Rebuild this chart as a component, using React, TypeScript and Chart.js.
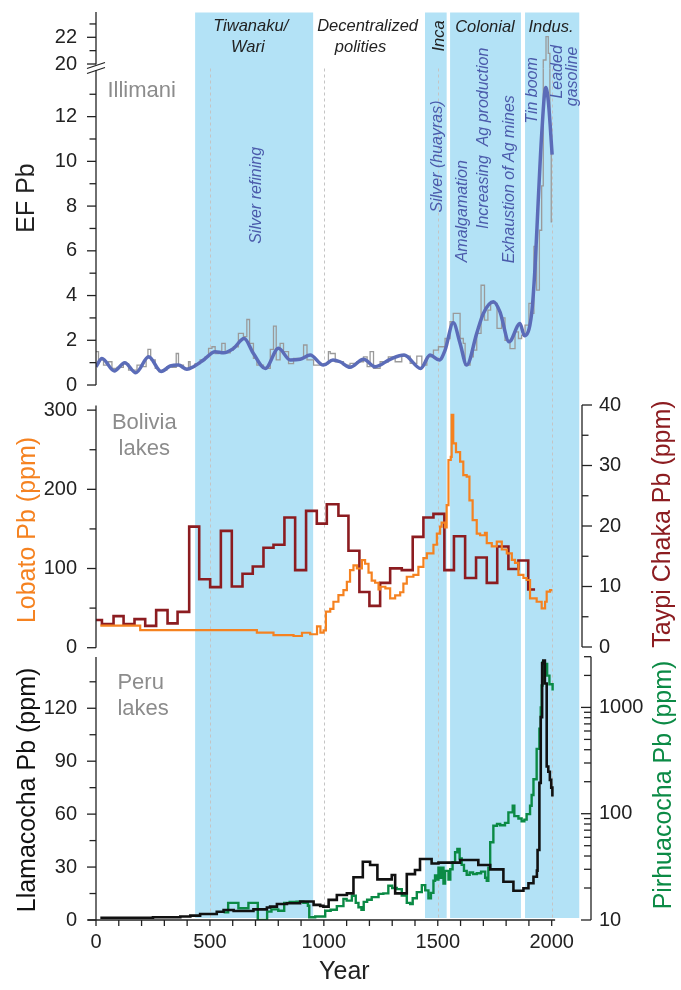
import React, { useEffect, useRef } from "react";
import { Chart, registerables } from "chart.js";

Chart.register(...registerables);

const FONT = '"Liberation Sans", Arial, Helvetica, sans-serif';

// ---------- x axis ----------
const yearTicks = [0, 100, 200, 300, 400, 500, 600, 700, 800, 900, 1000, 1100, 1200, 1300, 1400, 1500, 1600, 1700, 1800, 1900, 2000];
const yearTickLabels = [0, 500, 1000, 1500, 2000];

// ---------- historical periods ----------
const periodStarts = [435, 1444, 1554, 1883];
const periodEnds = [953, 1539, 1865, 2121];
const guideYears = [500, 1000, 1500, 2000];

// ---------- Illimani EF Pb ----------
const efUpperTicks = [20, 21, 22, 23];
const efUpperLabels = [20, 22];
const efLowerTicks = [0, 1, 2, 3, 4, 5, 6, 7, 8, 9, 10, 11, 12, 13];
const efLowerLabels = [0, 2, 4, 6, 8, 10, 12];

const efRaw: [number, number][] = [
  [0, 1.49], [11, 1.12], [33, 0.89], [55, 1.04], [70, 0.74], [92, 0.79], [120, 0.96], [143, 0.67], [180, 0.89], [205, 0.82],
  [220, 1.19], [228, 1.59], [240, 1.12], [260, 0.74], [275, 0.6], [290, 0.67], [311, 0.82], [333, 0.79], [352, 1.41], [362, 0.89],
  [384, 0.74], [406, 1.04], [413, 0.82], [435, 0.96], [457, 1.12], [479, 1.26], [494, 1.64], [509, 1.71], [523, 1.41], [538, 1.49],
  [552, 1.86], [567, 1.44], [589, 1.56], [603, 1.71], [625, 2.31], [647, 2.16], [662, 2.93], [674, 1.86], [691, 1.19], [706, 0.89],
  [735, 0.74], [765, 1.59], [779, 2.63], [791, 1.12], [808, 1.86], [823, 1.49], [845, 0.96], [867, 1.19], [911, 1.79], [926, 1.12],
  [955, 0.89], [998, 0.96], [1020, 1.49], [1028, 1.41], [1050, 1.04], [1086, 0.89], [1115, 0.97], [1145, 1.04], [1174, 1.26], [1190, 0.82],
  [1203, 1.49], [1218, 0.74], [1247, 1.04], [1283, 1.26], [1313, 1.04], [1342, 1.29], [1379, 0.97], [1408, 1.29], [1430, 0.89], [1452, 1.26],
  [1481, 1.56], [1503, 1.71], [1532, 2.08], [1554, 2.83], [1568, 3.2], [1598, 2.08], [1612, 1.86], [1620, 0.89], [1642, 1.26], [1656, 1.56],
  [1671, 2.31], [1690, 4.46], [1705, 2.9], [1720, 3.35], [1732, 3.65], [1760, 2.53], [1780, 3.0], [1795, 2.0], [1817, 1.63], [1839, 2.38],
  [1854, 2.08], [1868, 2.23], [1883, 2.68], [1900, 3.65], [1912, 3.2], [1922, 6.2], [1934, 4.24], [1946, 6.92], [1956, 8.9], [1963, 20.3],
  [1975, 22.05], [1985, 20.8], [1992, 11.6], [1998, 7.3], [2002, 7.3],
];

const efSmooth: [number, number][] = [
  [0, 0.82], [26, 1.19], [80, 0.63], [126, 1.0], [175, 0.55], [231, 1.26], [286, 0.6], [326, 0.85], [362, 0.89], [399, 0.7],
  [428, 0.82], [472, 1.12], [523, 1.49], [560, 1.44], [604, 1.64], [650, 2.08], [691, 1.41], [743, 0.74], [801, 1.64], [852, 1.12],
  [896, 1.15], [940, 1.34], [998, 0.89], [1040, 1.12], [1071, 1.04], [1115, 0.79], [1174, 1.15], [1225, 0.82], [1291, 1.15], [1352, 1.34],
  [1425, 0.74], [1466, 1.34], [1507, 1.12], [1532, 1.56], [1568, 2.78], [1598, 1.86], [1627, 0.89], [1671, 2.31], [1700, 3.2], [1744, 3.72],
  [1773, 3.27], [1813, 1.93], [1861, 2.75], [1880, 2.2], [1912, 3.2], [1927, 5.28], [1941, 8.26], [1956, 11.2], [1974, 13.3], [1985, 12.7],
  [2002, 10.3],
];

// ---------- Bolivia lakes ----------
const lobatoTicks = [0, 50, 100, 150, 200, 250, 300];
const lobatoLabels = [0, 100, 200, 300];
const taypiTicks = [0, 5, 10, 15, 20, 25, 30, 35, 40];
const taypiLabels = [0, 10, 20, 30, 40];

const lobato: [number, number][] = [
  [19, 27.8], [194, 22.3], [706, 19], [779, 16], [867, 14.8], [904, 18.9], [940, 17], [970, 27], [985, 19], [999, 22],
  [1009, 45.5], [1028, 49], [1042, 58], [1064, 66.5], [1086, 72.8], [1101, 83.3], [1115, 98], [1130, 104], [1145, 100], [1167, 110.7],
  [1181, 106], [1196, 94.7], [1210, 84.6], [1225, 82], [1240, 73.7], [1247, 77], [1270, 75], [1291, 62.4], [1313, 66], [1335, 70],
  [1349, 81], [1364, 89.6], [1393, 92], [1415, 102], [1437, 113], [1452, 119], [1481, 130], [1496, 144], [1510, 153], [1517, 158],
  [1532, 152], [1539, 180], [1547, 237], [1557, 241], [1561, 294], [1568, 258], [1580, 247], [1598, 235], [1612, 218], [1627, 216],
  [1639, 186], [1653, 161], [1671, 144], [1686, 142], [1707, 145], [1715, 132], [1737, 128], [1759, 134], [1773, 134], [1781, 124],
  [1803, 119], [1825, 111], [1839, 107], [1854, 92], [1876, 88], [1890, 85.5], [1905, 62.4], [1934, 58], [1956, 49.7], [1971, 58],
  [1978, 70.7], [1993, 72.8], [2003, 72.8],
];

const taypi: [number, number][] = [
  [0, 4.46], [26, 3.8], [77, 5.1], [121, 3.8], [169, 4.6], [216, 3.5], [264, 6.1], [314, 3.9], [358, 5.8], [409, 19.9],
  [453, 11.2], [501, 9.9], [548, 19.2], [596, 10.0], [643, 12.1], [688, 13.3], [735, 16.4], [779, 16.9], [827, 21.4], [874, 12.7],
  [922, 22.5], [969, 20.4], [1013, 23.6], [1064, 21.7], [1108, 15.9], [1156, 9.1], [1200, 6.8], [1247, 10.6], [1291, 13.0], [1342, 12.7],
  [1390, 18.2], [1437, 21.4], [1481, 22.0], [1529, 12.7], [1571, 18.3], [1620, 11.4], [1668, 14.8], [1715, 10.6], [1761, 16.6], [1810, 12.9],
  [1854, 14.3], [1897, 9.5], [1927, 9.5],
];

// ---------- Peru lakes ----------
const llamaTicks = [0, 15, 30, 45, 60, 75, 90, 105, 120, 135];
const llamaLabels = [0, 30, 60, 90, 120];
const pirhuaTicks = [10, 20, 30, 40, 50, 60, 70, 80, 90, 100, 200, 300, 400, 500, 600, 700, 800, 900, 1000, 2000, 3000];
const pirhuaLabels = [10, 100, 1000];

const llama: [number, number][] = [
  [19, 1.3], [250, 1.6], [370, 2.0], [414, 2.5], [457, 3.4], [530, 4.7], [560, 5.7], [604, 5.1], [691, 6.0], [750, 7.1],
  [764, 7.6], [794, 9.1], [838, 9.5], [896, 10.5], [955, 8.6], [984, 8.0], [998, 7.6], [1021, 11.4], [1057, 14.2], [1101, 15.1],
  [1130, 24.2], [1171, 33], [1203, 31.2], [1235, 23], [1298, 25.5], [1313, 15.1], [1364, 26], [1400, 28.3], [1422, 34.6], [1473, 32],
  [1503, 32.5], [1598, 34], [1678, 31.2], [1730, 28.7], [1788, 21.7], [1832, 16.6], [1876, 18], [1898, 20.8], [1920, 24.5], [1935, 28],
  [1938, 39.7], [1946, 77.7], [1952, 115], [1958, 145.5], [1963, 147], [1970, 134], [1978, 87], [1985, 84], [1992, 79.4], [1998, 75],
  [2003, 70],
];

const pirhua: [number, number][] = [
  [560, 11.8], [580, 14.5], [625, 12.9], [669, 14.5], [710, 10], [751, 12.0], [770, 12.6], [800, 12.2], [826, 14.5], [850, 14.8],
  [880, 14.9], [910, 14.5], [930, 13.6], [936, 10.6], [962, 10.8], [1006, 12.2], [1030, 12.5], [1057, 13.5], [1086, 15.8], [1100, 15.2],
  [1123, 16.9], [1140, 14.5], [1152, 13.2], [1165, 12.5], [1175, 14.8], [1190, 15.5], [1210, 16.4], [1240, 17.6], [1261, 17.8], [1283, 21],
  [1300, 20], [1320, 19.5], [1342, 17], [1364, 14.5], [1379, 14.1], [1390, 16], [1408, 18.3], [1430, 21.3], [1445, 19], [1459, 16],
  [1470, 18], [1481, 23.4], [1488, 26.2], [1496, 24], [1503, 31], [1510, 25], [1518, 31], [1525, 22], [1532, 29], [1547, 24],
  [1555, 30], [1565, 35], [1576, 43.4], [1586, 46.5], [1596, 38], [1605, 33], [1615, 29], [1627, 26.6], [1640, 28], [1655, 27],
  [1671, 27.5], [1690, 28.5], [1708, 25], [1715, 23.4], [1722, 31], [1730, 53.9], [1744, 77], [1760, 80], [1774, 78], [1795, 82],
  [1810, 103], [1829, 119], [1836, 95], [1854, 90], [1868, 85], [1880, 88], [1890, 99], [1905, 119], [1912, 150], [1920, 211],
  [1934, 407], [1946, 630], [1952, 1000], [1956, 1610], [1960, 2660], [1970, 2570], [1980, 1990], [1990, 1650], [2004, 1440],
];

// ---------- text annotations (anchored at year / EF value) ----------
const eventNotes: [string, number, number][] = [
  ["Silver refining", 703, 8.48],
  ["Silver (huayras)", 1497, 10.22],
  ["Amalgamation", 1607, 7.77],
  ["Increasing  Ag production", 1703, 11.03],
  ["Exhaustion of Ag mines", 1813, 9.2],
  ["Tin boom", 1918, 13.17],
  ["Leaded", 2027, 14.0],
  ["gasoline", 2093, 13.8],
];

const BAND = "#b3e2f6";
const BLUE_TXT = "#4b5bab";
const DARK = "#222";

const pts = (a: [number, number][]) => a.map(([x, y]) => ({ x, y }));

function rotText(ctx: any, text: string, x: number, y: number, font: string, color: string) {
  ctx.save();
  ctx.translate(x, y);
  ctx.rotate(-Math.PI / 2);
  ctx.font = font;
  ctx.fillStyle = color;
  ctx.textAlign = "center";
  ctx.textBaseline = "middle";
  ctx.fillText(text, 0, 0);
  ctx.restore();
}

const decor = {
  id: "decor",
  beforeDatasetsDraw(chart: any) {
    const { ctx, chartArea, scales } = chart;
    const x = scales.x;
    ctx.save();
    ctx.fillStyle = BAND;
    const top = chartArea.top + 2.5;
    const bottom = chartArea.bottom - 2;
    periodStarts.forEach((s, i) => {
      const a = x.getPixelForValue(s);
      const b = x.getPixelForValue(periodEnds[i]);
      ctx.fillRect(a, top, b - a, bottom - top);
    });
    ctx.strokeStyle = "#c4c4c4";
    ctx.lineWidth = 1;
    ctx.setLineDash([3, 3]);
    const dTop = scales.yLo.top;
    guideYears.forEach((yr) => {
      const px = Math.round(x.getPixelForValue(yr)) + 0.5;
      ctx.beginPath();
      ctx.moveTo(px, dTop);
      ctx.lineTo(px, chartArea.bottom);
      ctx.stroke();
    });
    ctx.restore();
  },
  afterDatasetsDraw(chart: any) {
    const { ctx, scales, chartArea } = chart;
    const x = scales.x;
    const top = chartArea.top;
    ctx.save();
    // period names
    ctx.font = `italic 16.5px ${FONT}`;
    ctx.fillStyle = DARK;
    ctx.textAlign = "center";
    ctx.textBaseline = "alphabetic";
    ctx.fillText("Tiwanaku/", x.getPixelForValue(679), top + 20.7);
    ctx.fillText("Wari", x.getPixelForValue(666), top + 41.7);
    ctx.fillText("Decentralized", x.getPixelForValue(1192), top + 20.7);
    ctx.fillText("polities", x.getPixelForValue(1161), top + 42);
    ctx.fillText("Colonial", x.getPixelForValue(1707), top + 21.7);
    ctx.fillText("Indus.", x.getPixelForValue(1997), top + 21.7);
    rotText(ctx, "Inca", x.getPixelForValue(1505), top + 26, `italic 16.5px ${FONT}`, DARK);
    // events
    eventNotes.forEach(([t, yr, v]) => {
      rotText(ctx, t, x.getPixelForValue(yr), scales.yLo.getPixelForValue(v), `italic 16px ${FONT}`, BLUE_TXT);
    });
    // panel names
    ctx.font = `22px ${FONT}`;
    ctx.fillStyle = "#8c8c8c";
    ctx.textAlign = "left";
    ctx.fillText("Illimani", x.getPixelForValue(50), top + 87);
    ctx.textAlign = "center";
    ctx.fillText("Bolivia", x.getPixelForValue(212), scales.yLob.top + 37);
    ctx.fillText("lakes", x.getPixelForValue(212), scales.yLob.top + 63);
    ctx.textAlign = "left";
    ctx.fillText("Peru", x.getPixelForValue(94), scales.yLl.top + 36);
    ctx.fillText("lakes", x.getPixelForValue(94), scales.yLl.top + 62);
    ctx.restore();
  },
  afterDraw(chart: any) {
    const { ctx, scales, chartArea } = chart;
    const L = chartArea.left;
    const R = chartArea.right;
    const B = chartArea.bottom;
    const x = scales.x;
    ctx.save();
    ctx.strokeStyle = DARK;
    ctx.lineWidth = 1.3;
    ctx.setLineDash([]);
    const vline = (px: number, y1: number, y2: number) => {
      ctx.beginPath();
      ctx.moveTo(px, y1);
      ctx.lineTo(px, y2);
      ctx.stroke();
    };
    const hline = (py: number, x1: number, x2: number) => {
      ctx.beginPath();
      ctx.moveTo(x1, py);
      ctx.lineTo(x2, py);
      ctx.stroke();
    };
    // axis lines
    const yHi = scales.yHi, yLo = scales.yLo, yLob = scales.yLob, yLl = scales.yLl, rTay = scales.rTay, rPir = scales.rPir;
    vline(L, yHi.top + 2, yHi.bottom - 4);
    vline(L, yLo.top + 1.5, yLo.getPixelForValue(0));
    vline(L, yLob.getPixelForValue(306), yLob.getPixelForValue(0));
    vline(L, yLl.getPixelForValue(149), yLl.getPixelForValue(0));
    vline(R, rTay.getPixelForValue(40), rTay.getPixelForValue(0));
    vline(R + 9, rPir.getPixelForValue(3000), rPir.getPixelForValue(10));
    hline(B, L - 8, x.getPixelForValue(2015));
    // break marks
    const bk = yHi.bottom;
    ctx.beginPath();
    ctx.moveTo(L - 9, bk + 0);
    ctx.lineTo(L + 9, bk - 6);
    ctx.moveTo(L - 9, bk + 5);
    ctx.lineTo(L + 9, bk - 1);
    ctx.stroke();
    // tick marks
    const leftTicks = (s: any, vals: number[], labs: number[]) => {
      vals.forEach((v) => {
        const py = s.getPixelForValue(v);
        hline(py, L - (labs.includes(v) ? 9 : 6.5), L);
      });
    };
    leftTicks(yHi, efUpperTicks, efUpperLabels);
    leftTicks(yLo, efLowerTicks, efLowerLabels);
    leftTicks(yLob, lobatoTicks, lobatoLabels);
    leftTicks(yLl, llamaTicks, llamaLabels);
    taypiTicks.forEach((v) => {
      const py = rTay.getPixelForValue(v);
      hline(py, R, R + (taypiLabels.includes(v) ? 10 : 6.5));
    });
    pirhuaTicks.forEach((v) => {
      const py = rPir.getPixelForValue(v);
      hline(py, R + 9 - (pirhuaLabels.includes(v) ? 10 : 7), R + 9);
    });
    yearTicks.forEach((v) => {
      const px = x.getPixelForValue(v);
      vline(px, B, B + 6);
    });
    // axis titles
    const tf = `25px ${FONT}`;
    rotText(ctx, "EF Pb", 27, 198, tf, DARK);
    rotText(ctx, "Lobato Pb (ppm)", 28, 530, tf, "#f58220");
    rotText(ctx, "Llamacocha Pb (ppm)", 28, 790, tf, "#111");
    rotText(ctx, "Taypi Chaka Pb (ppm)", 663, 524, tf, "#8c1c20");
    rotText(ctx, "Pirhuacocha Pb (ppm)", 664, 785, tf, "#0b8a45");
    ctx.font = tf;
    ctx.fillStyle = DARK;
    ctx.textAlign = "center";
    ctx.textBaseline = "middle";
    ctx.fillText("Year", x.getPixelForValue(1090), 972);
    ctx.restore();
  },
};

const tickFont = { family: FONT, size: 20 };

const zeroPad = (s: any) => {
  s.paddingTop = 0;
  s.paddingBottom = 0;
  s.paddingLeft = 0;
  s.paddingRight = 0;
};

function yAxis(side: "left" | "right", ticks: number[], labels: number[], extra: any) {
  return {
    type: "linear",
    position: side,
    stack: side === "left" ? "L" : "R",
    grid: { display: false, drawTicks: true, tickLength: side === "left" ? 9 : 10 },
    border: { display: false },
    afterBuildTicks: (s: any) => {
      s.ticks = ticks.map((v) => ({ value: v }));
    },
    afterFit: (s: any) => {
      s.width = side === "left" ? 96 : 99;
      zeroPad(s);
    },
    ticks: {
      autoSkip: false,
      padding: side === "left" ? 10 : 7,
      color: DARK,
      font: tickFont,
      callback: (v: any) => (labels.includes(Number(v)) ? String(v) : ""),
    },
    ...extra,
  };
}

export default function App() {
  const ref = useRef<HTMLCanvasElement | null>(null);
  useEffect(() => {
    if (!ref.current) return;
    Chart.defaults.font.family = FONT;
    const line = (data: any, yAxisID: string, color: string, width: number, more: any = {}) => ({
      data,
      yAxisID,
      xAxisID: "x",
      borderColor: color,
      borderWidth: width,
      pointRadius: 0,
      fill: false,
      stepped: true,
      ...more,
    });
    const chart = new Chart(ref.current, {
      type: "line",
      data: {
        datasets: [
          line(pts(efSmooth), "yLo", "#5b6cb8", 3.5, { stepped: false, tension: 0.4, cubicInterpolationMode: "monotone" }),
          line(pts(efRaw), "yLo", "#9a9a9a", 1.3),
          line(pts(efRaw), "yHi", "#9a9a9a", 1.3),
          line(pts(lobato), "yLob", "#f58220", 2.2),
          line(pts(taypi), "rTay", "#8c1c20", 2.6),
          line(pts(llama), "yLl", "#111111", 2.6),
          line(pts(pirhua), "rPir", "#0b8a45", 2.4),
        ],
      } as any,
      options: {
        responsive: true,
        maintainAspectRatio: false,
        animation: false,
        layout: { padding: { top: 10, left: 0, right: 0, bottom: 0 } },
        plugins: { legend: { display: false }, tooltip: { enabled: false } },
        events: [],
        scales: {
          x: {
            type: "linear",
            position: "bottom",
            min: 0,
            max: 2133,
            grid: { display: false, drawTicks: true, tickLength: 6 },
            border: { display: false },
            afterBuildTicks: (s: any) => {
              s.ticks = yearTicks.map((v) => ({ value: v }));
            },
            afterFit: (s: any) => {
              s.height = 70;
              zeroPad(s);
            },
            ticks: {
              autoSkip: false,
              maxRotation: 0,
              padding: 4,
              color: DARK,
              font: tickFont,
              callback: (v: any) => (yearTickLabels.includes(Number(v)) ? String(v) : ""),
            },
          },
          yHi: yAxis("left", efUpperTicks, efUpperLabels, { weight: 4, stackWeight: 58.5, min: 19.663, max: 24.045 }),
          yLo: yAxis("left", efLowerTicks, efLowerLabels, { weight: 3, stackWeight: 323.5, min: -0.3125, max: 14.152 }),
          yLob: yAxis("left", lobatoTicks, lobatoLabels, { weight: 2, stackWeight: 260.5, min: -6.06, max: 322.9 }),
          yLl: yAxis("left", llamaTicks, llamaLabels, { weight: 1, stackWeight: 267.5, min: 0, max: 151.6 }),
          rTop: {
            type: "linear",
            position: "right",
            stack: "R",
            weight: 1,
            stackWeight: 382,
            min: 0,
            max: 1,
            grid: { display: false, drawTicks: false },
            border: { display: false },
            ticks: { display: false },
            afterFit: (s: any) => {
              s.width = 99;
              zeroPad(s);
            },
          },
          rTay: yAxis("right", taypiTicks, taypiLabels, { weight: 2, stackWeight: 260.5, min: -0.909, max: 42.15 }),
          rPir: yAxis("right", pirhuaTicks, pirhuaLabels, { type: "logarithmic", weight: 3, stackWeight: 267.5, min: 10, max: 3286 }),
        },
      } as any,
      plugins: [decor as any],
    });
    return () => chart.destroy();
  }, []);
  return (
    <div style={{ position: "absolute", left: 0, top: 0, width: 681, height: 990, background: "#fff" }}>
      <canvas ref={ref} />
    </div>
  );
}
